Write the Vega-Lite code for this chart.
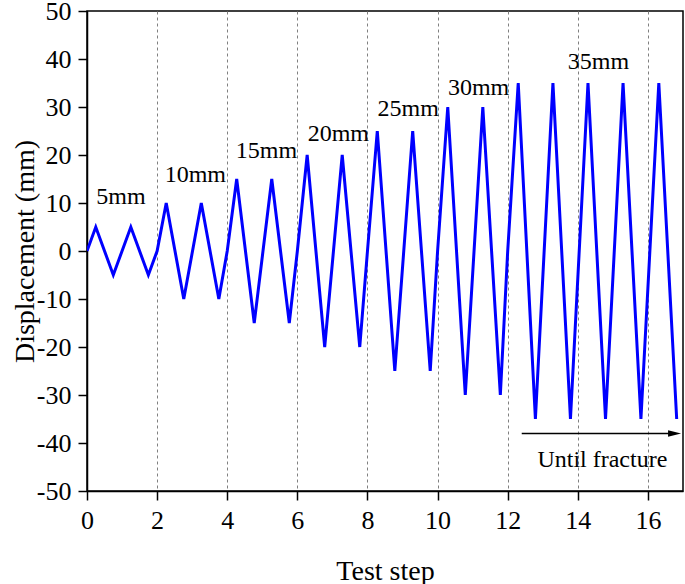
{
  "$schema": "https://vega.github.io/schema/vega-lite/v6.json",
  "width": 596,
  "height": 480,
  "autosize": {"type": "none"},
  "padding": {"left": 87, "top": 11, "right": 2, "bottom": 93},
  "background": "white",
  "config": {
    "view": {"stroke": "black", "strokeWidth": 1.5},
    "font": "Liberation Serif",
    "axis": {"labelFont": "Liberation Serif", "titleFont": "Liberation Serif"},
    "text": {"font": "Liberation Serif"}
  },
  "datasets": {
    "wave": [
      {"x": 0, "y": 0}, {"x": 0.25, "y": 5}, {"x": 0.75, "y": -5}, {"x": 1.25, "y": 5}, {"x": 1.75, "y": -5}, {"x": 2, "y": 0},
      {"x": 2.26, "y": 10}, {"x": 2.76, "y": -10}, {"x": 3.26, "y": 10}, {"x": 3.76, "y": -10}, {"x": 4, "y": 0},
      {"x": 4.27, "y": 15}, {"x": 4.77, "y": -15}, {"x": 5.27, "y": 15}, {"x": 5.77, "y": -15}, {"x": 6, "y": 0},
      {"x": 6.28, "y": 20}, {"x": 6.78, "y": -20}, {"x": 7.28, "y": 20}, {"x": 7.78, "y": -20}, {"x": 8, "y": 0},
      {"x": 8.28, "y": 25}, {"x": 8.78, "y": -25}, {"x": 9.29, "y": 25}, {"x": 9.79, "y": -25}, {"x": 10, "y": 0},
      {"x": 10.29, "y": 30}, {"x": 10.79, "y": -30}, {"x": 11.29, "y": 30}, {"x": 11.79, "y": -30}, {"x": 12, "y": 0},
      {"x": 12.3, "y": 35}, {"x": 12.79, "y": -35}, {"x": 13.29, "y": 35}, {"x": 13.79, "y": -35}, {"x": 14.29, "y": 35}, {"x": 14.79, "y": -35},
      {"x": 15.29, "y": 35}, {"x": 15.8, "y": -35}, {"x": 16.31, "y": 35}, {"x": 16.82, "y": -35}
    ],
    "labels": [
      {"x": 0.97, "y": 11.2, "t": "5mm"},
      {"x": 3.09, "y": 15.8, "t": "10mm"},
      {"x": 5.12, "y": 20.9, "t": "15mm"},
      {"x": 7.17, "y": 24.3, "t": "20mm"},
      {"x": 9.16, "y": 29.5, "t": "25mm"},
      {"x": 11.17, "y": 34, "t": "30mm"},
      {"x": 14.59, "y": 39.4, "t": "35mm"},
      {"x": 14.7, "y": -43.5, "t": "Until fracture"}
    ],
    "arrow": [
      {"x": 12.4, "x2": 16.6, "y": -38, "hx": 16.76}
    ]
  },
  "layer": [
    {
      "data": {"name": "wave"},
      "mark": {"type": "line", "color": "#0000ff", "strokeWidth": 3, "clip": true},
      "encoding": {
        "x": {
          "field": "x", "type": "quantitative",
          "scale": {"domain": [0, 17], "nice": false, "zero": false},
          "axis": {
            "title": "Test step",
            "values": [0, 1, 2, 3, 4, 5, 6, 7, 8, 9, 10, 11, 12, 13, 14, 15, 16, 17],
            "labelExpr": "datum.value % 2 === 0 ? toString(datum.value) : ''",
            "labelFlush": false,
            "labelOverlap": false,
            "labelFont": "Liberation Serif",
            "labelFontSize": 26,
            "labelColor": "black",
            "labelPadding": 7,
            "tickColor": "black",
            "tickWidth": 1.5,
            "tickSize": {"condition": {"test": "datum.value % 2 === 0", "value": 9}, "value": 5},
            "domainColor": "black",
            "domainWidth": 1.5,
            "grid": true,
            "gridColor": "#808080",
            "gridDash": [3, 3],
            "gridWidth": 1,
            "gridOpacity": {"condition": {"test": "datum.value % 2 === 0 && datum.value > 0 && datum.value < 17", "value": 1}, "value": 0},
            "titleFont": "Liberation Serif",
            "titleFontSize": 28,
            "titleFontWeight": "normal",
            "titleColor": "black",
            "titleBaseline": "alphabetic",
            "titleY": 88
          }
        },
        "y": {
          "field": "y", "type": "quantitative",
          "scale": {"domain": [-50, 50], "nice": false, "zero": false},
          "axis": {
            "title": "Displacement (mm)",
            "values": [-50, -45, -40, -35, -30, -25, -20, -15, -10, -5, 0, 5, 10, 15, 20, 25, 30, 35, 40, 45, 50],
            "labelExpr": "datum.value % 10 === 0 ? toString(datum.value) : ''",
            "labelFlush": false,
            "labelOverlap": false,
            "labelFont": "Liberation Serif",
            "labelFontSize": 26,
            "labelColor": "black",
            "labelPadding": 7,
            "tickColor": "black",
            "tickWidth": 1.5,
            "tickSize": {"condition": {"test": "datum.value % 10 === 0", "value": 9}, "value": 6},
            "domainColor": "black",
            "domainWidth": 1.5,
            "grid": false,
            "titleFont": "Liberation Serif",
            "titleFontSize": 28,
            "titleFontWeight": "normal",
            "titleColor": "black",
            "titleBaseline": "alphabetic",
            "titleX": -54
          }
        }
      }
    },
    {
      "data": {"name": "labels"},
      "mark": {"type": "text", "font": "Liberation Serif", "fontSize": 24, "align": "center", "baseline": "middle", "color": "black"},
      "encoding": {
        "x": {"field": "x", "type": "quantitative"},
        "y": {"field": "y", "type": "quantitative"},
        "text": {"field": "t"}
      }
    },
    {
      "data": {"name": "arrow"},
      "mark": {"type": "rule", "color": "black", "strokeWidth": 1.5},
      "encoding": {
        "x": {"field": "x", "type": "quantitative"},
        "x2": {"field": "x2"},
        "y": {"field": "y", "type": "quantitative"}
      }
    },
    {
      "data": {"name": "arrow"},
      "mark": {"type": "point", "shape": "M-1,-0.5L1,0L-1,0.5Z", "size": 169, "filled": true, "color": "black", "opacity": 1},
      "encoding": {
        "x": {"field": "hx", "type": "quantitative"},
        "y": {"field": "y", "type": "quantitative"}
      }
    }
  ]
}
